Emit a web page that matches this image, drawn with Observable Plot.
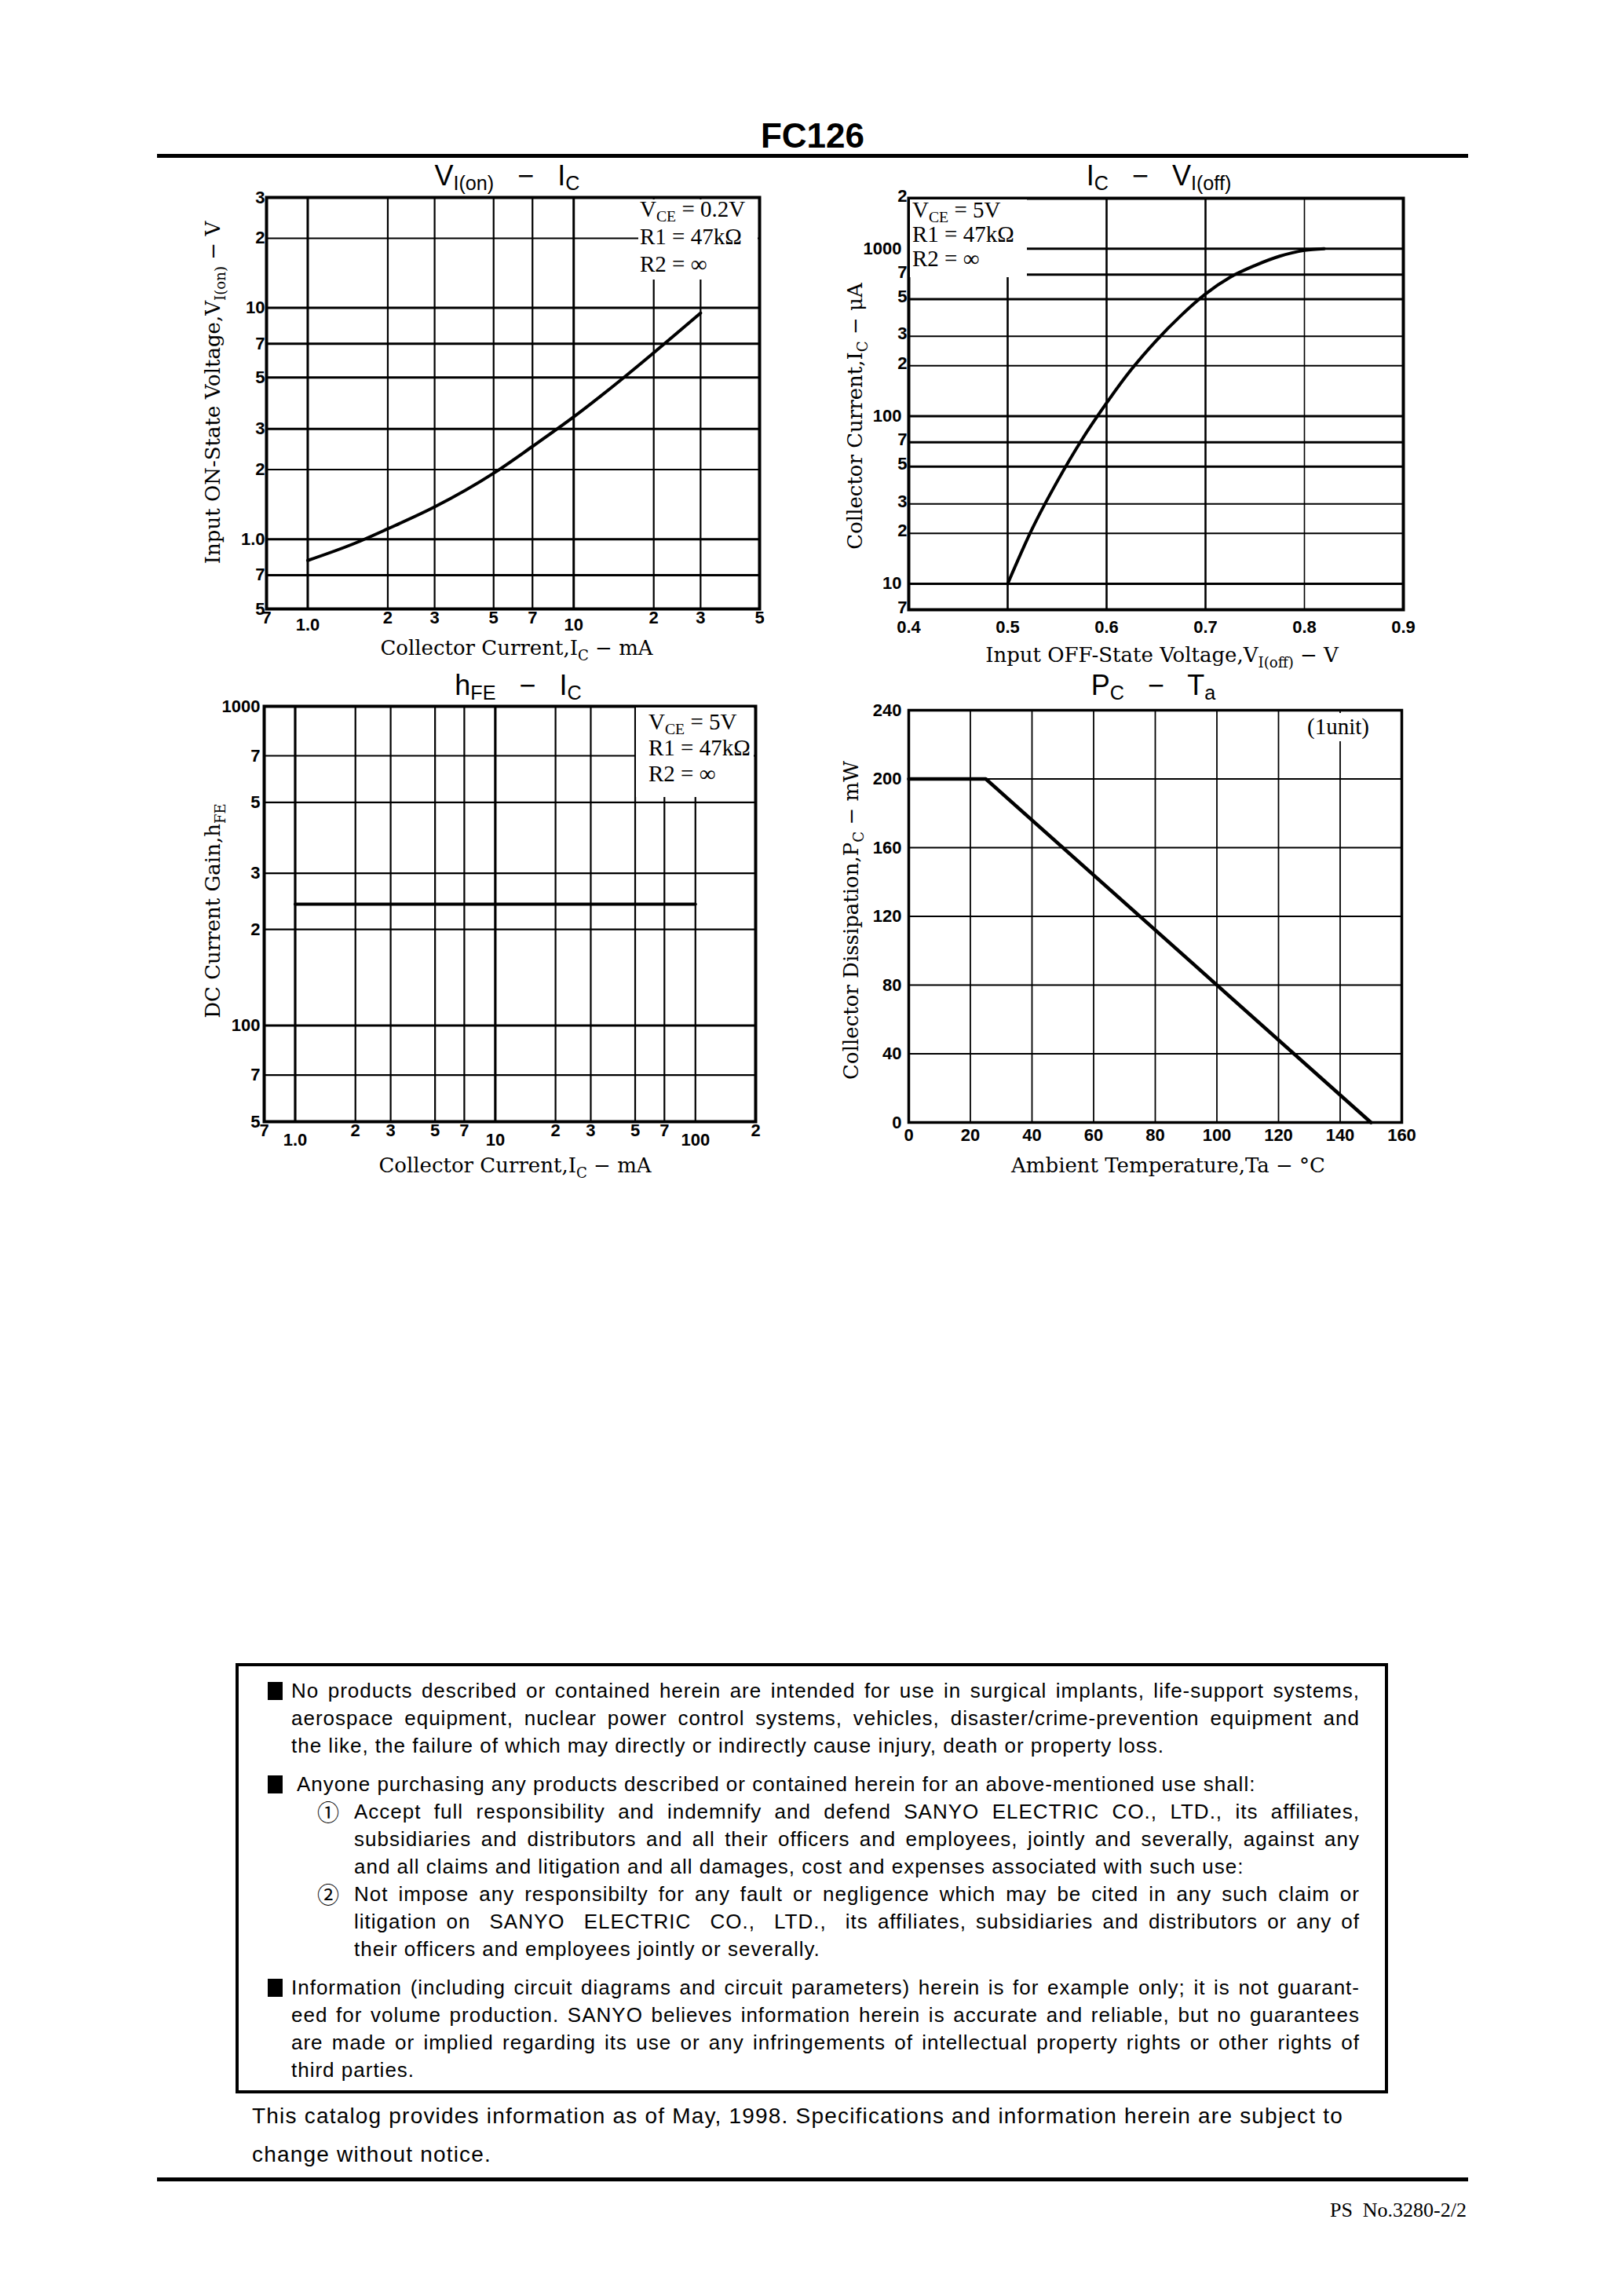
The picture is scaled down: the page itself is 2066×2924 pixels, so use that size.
<!DOCTYPE html>
<html><head><meta charset="utf-8">
<script src="https://cdn.jsdelivr.net/npm/d3@7"></script>
<script src="https://cdn.jsdelivr.net/npm/@observablehq/plot@0.6"></script>
<style>
html,body{margin:0;padding:0;background:#fff;}
#page{position:relative;width:2066px;height:2924px;background:#fff;overflow:hidden;}
#page > svg{position:absolute;}
.rule{position:absolute;background:#000;}
#disc{position:absolute;left:300px;top:2118px;width:1468px;height:548px;border:4px solid #000;box-sizing:border-box;
  font-family:'Liberation Sans',Arial,Helvetica,sans-serif;font-size:26px;letter-spacing:1px;line-height:35px;color:#000;}
.row{position:absolute;white-space:nowrap;height:35px;}
.j{text-align:justify;text-align-last:justify;}
.sq{position:absolute;width:19px;height:23px;background:#000;top:6px;}
.cn{position:absolute;font-family:'Noto Sans CJK JP','DejaVu Sans',sans-serif;font-size:28px;line-height:35px;letter-spacing:0;}
#catalog{position:absolute;left:321px;top:2670px;font-family:'Liberation Sans',Arial,sans-serif;font-size:28px;letter-spacing:1.2px;line-height:49px;white-space:nowrap;}
</style></head>
<body><div id="page">
<div class="rule" style="left:200px;top:196px;width:1670px;height:5px"></div>
<div class="rule" style="left:200px;top:2773px;width:1670px;height:5px"></div>
<div id="disc">
  <i class="sq" style="left:37px;top:20px"></i>
  <div class="row j" style="top:14px;left:67px;width:1361px">No products described or contained herein are intended for use in surgical implants, life-support systems,</div>
  <div class="row j" style="top:49px;left:67px;width:1361px">aerospace equipment, nuclear power control systems, vehicles, disaster/crime-prevention equipment and</div>
  <div class="row" style="top:84px;left:67px;">the like, the failure of which may directly or indirectly cause injury, death or property loss.</div>
  <i class="sq" style="left:37px;top:139px"></i>
  <div class="row" style="top:133px;left:74px;">Anyone purchasing any products described or contained herein for an above-mentioned use shall:</div>
  <span class="cn" style="left:100px;top:168px">①</span>
  <div class="row j" style="top:168px;left:147px;width:1281px">Accept full responsibility and indemnify and defend SANYO ELECTRIC CO., LTD., its affiliates,</div>
  <div class="row j" style="top:203px;left:147px;width:1281px">subsidiaries and distributors and all their officers and employees, jointly and severally, against any</div>
  <div class="row" style="top:238px;left:147px;">and all claims and litigation and all damages, cost and expenses associated with such use:</div>
  <span class="cn" style="left:100px;top:273px">②</span>
  <div class="row j" style="top:273px;left:147px;width:1281px">Not impose any responsibilty for any fault or negligence which may be cited in any such claim or</div>
  <div class="row j" style="top:308px;left:147px;width:1281px">litigation on&nbsp; SANYO&nbsp; ELECTRIC&nbsp; CO.,&nbsp; LTD.,&nbsp; its affiliates, subsidiaries and distributors or any of</div>
  <div class="row" style="top:343px;left:147px;">their officers and employees jointly or severally.</div>
  <i class="sq" style="left:37px;top:398px"></i>
  <div class="row j" style="top:392px;left:67px;width:1361px">Information (including circuit diagrams and circuit parameters) herein is for example only; it is not guarant-</div>
  <div class="row j" style="top:427px;left:67px;width:1361px">eed for volume production. SANYO believes information herein is accurate and reliable, but no guarantees</div>
  <div class="row j" style="top:462px;left:67px;width:1361px">are made or implied regarding its use or any infringements of intellectual property rights or other rights of</div>
  <div class="row" style="top:497px;left:67px;">third parties.</div>
</div>
<div id="catalog">This catalog provides information as of May, 1998. Specifications and information herein are subject to<br>change without notice.</div>
</div>
<script>
// ---------- Chart 1: VI(on) - IC ----------
const c1Ic  = [1.0, 1.5, 2.0, 3.0, 5.0, 7.0, 10, 15, 20, 30];
const c1Vin = [0.81, 0.96, 1.11, 1.38, 1.93, 2.52, 3.38, 4.87, 6.4, 9.5];
const c1XTicks  = [0.7, 1, 2, 3, 5, 7, 10, 20, 30, 50];
const c1XLabels = ["7", "1.0", "2", "3", "5", "7", "10", "2", "3", "5"];
const c1YTicks  = [0.5, 0.7, 1, 2, 3, 5, 7, 10, 20, 30];
const c1YLabels = ["5", "7", "1.0", "2", "3", "5", "7", "10", "2", "3"];
const c1XGrid = [1, 2, 3, 5, 7, 10, 20, 30];
const c1YGrid = [0.7, 1, 2, 3, 5, 7, 10, 20];

// ---------- Chart 2: IC - VI(off) ----------
const c2Voff = [0.50, 0.525, 0.55, 0.575, 0.60, 0.625, 0.65, 0.675, 0.70, 0.725, 0.75, 0.775, 0.80, 0.82];
const c2Ic   = [10, 21.4, 40.7, 72.4, 120, 190, 282, 398, 537, 676, 794, 902, 977, 1000];
const c2XTicks  = [0.4, 0.5, 0.6, 0.7, 0.8, 0.9];
const c2XLabels = ["0.4", "0.5", "0.6", "0.7", "0.8", "0.9"];
const c2YTicks  = [7, 10, 20, 30, 50, 70, 100, 200, 300, 500, 700, 1000, 2000];
const c2YLabels = ["7", "10", "2", "3", "5", "7", "100", "2", "3", "5", "7", "1000", "2"];
const c2XGrid = [0.5, 0.6, 0.7, 0.8];
const c2YGrid = [10, 20, 30, 50, 70, 100, 200, 300, 500, 700, 1000];

// ---------- Chart 3: hFE - IC ----------
const c3Ic  = [1.0, 100];
const c3Hfe = [240, 240];
const c3XTicks  = [0.7, 1, 2, 3, 5, 7, 10, 20, 30, 50, 70, 100, 200];
const c3XLabels = ["7", "1.0", "2", "3", "5", "7", "10", "2", "3", "5", "7", "100", "2"];
const c3YTicks  = [50, 70, 100, 200, 300, 500, 700, 1000];
const c3YLabels = ["5", "7", "100", "2", "3", "5", "7", "1000"];
const c3XGrid = [1, 2, 3, 5, 7, 10, 20, 30, 50, 70, 100];
const c3YGrid = [70, 100, 200, 300, 500, 700];

// ---------- Chart 4: PC - Ta ----------
const c4Ta = [0, 25, 150];
const c4Pc = [200, 200, 0];
const c4XTicks  = [0, 20, 40, 60, 80, 100, 120, 140, 160];
const c4XLabels = ["0", "20", "40", "60", "80", "100", "120", "140", "160"];
const c4YTicks  = [0, 40, 80, 120, 160, 200, 240];
const c4YLabels = ["0", "40", "80", "120", "160", "200", "240"];
const c4XGrid = [20, 40, 60, 80, 100, 120, 140];
const c4YGrid = [40, 80, 120, 160, 200];

// ---------- helpers ----------
const page = document.getElementById("page");
const SANS = "'Liberation Sans',Arial,Helvetica,sans-serif";
const SERIF = "'Liberation Serif','Times New Roman',serif";
const SERIF2 = "'DejaVu Serif','Liberation Serif',serif";
const lab = (ticks, labels) => d => labels[ticks.indexOf(d)];
const isDecade = d => Math.abs(Math.log10(d) - Math.round(Math.log10(d))) < 1e-9;
const tickStyle = {fontFamily: SANS, fontSize: "22px", fontWeight: "bold", background: "transparent", overflow: "visible", color: "#000"};
const M = {marginLeft: 70, marginRight: 20, marginTop: 20, marginBottom: 50};

// tick labels drawn as text marks positioned by the chart's own scales
const xLabels = (ticks, labels, pad) => Plot.text(ticks, {x: d => d, text: lab(ticks, labels), frameAnchor: "bottom", lineAnchor: "top", dy: pad, fill: "#000"});
const yLabels = (ticks, labels, pad, dy = 0) => Plot.text(ticks, {y: d => d, text: lab(ticks, labels), frameAnchor: "left", textAnchor: "end", dx: -pad, dy, fill: "#000"});

function place(svg, frameLeft, frameTop) {
  svg.style.position = "absolute";
  svg.style.left = (frameLeft - M.marginLeft) + "px";
  svg.style.top = (frameTop - M.marginTop) + "px";
  page.appendChild(svg);
}

// Chart 1 frame: x 339-967, y 251-775
const ch1 = Plot.plot({
  width: 628 + 90, height: 524 + 70, ...M,
  x: {type: "log", domain: [0.7, 50], axis: null},
  y: {type: "log", domain: [0.5, 30], axis: null},
  style: tickStyle,
  marks: [
    Plot.ruleX(c1XGrid, {stroke: "#000", strokeWidth: d => (d === 1 || d === 10) ? 3 : 2.2}),
    Plot.ruleY(c1YGrid, {stroke: "#000", strokeWidth: d => (d === 20 || d === 2) ? 2 : 3}),
    Plot.frame({stroke: "#000", strokeWidth: 4}),
    xLabels(c1XTicks.filter(d => !isDecade(d)), c1XLabels.filter((_, i) => !isDecade(c1XTicks[i])), 3),
    xLabels(c1XTicks.filter(isDecade), c1XLabels.filter((_, i) => isDecade(c1XTicks[i])), 12),
    yLabels(c1YTicks, c1YLabels, 2),
    Plot.line(c1Ic.map((ic, i) => ({ic, v: c1Vin[i]})), {x: "ic", y: "v", curve: "monotone-x", stroke: "#000", strokeWidth: 4})
  ]
});
place(ch1, 339, 251);

// Chart 2 frame: x 1157-1787, y 252-776
const ch2 = Plot.plot({
  width: 630 + 90, height: 524 + 70, ...M,
  x: {type: "linear", domain: [0.4, 0.9], axis: null},
  y: {type: "log", domain: [7, 2000], axis: null},
  style: tickStyle,
  marks: [
    Plot.ruleX(c2XGrid, {stroke: "#000", strokeWidth: d => d === 0.8 ? 1.6 : 2.6}),
    Plot.ruleY(c2YGrid, {stroke: "#000", strokeWidth: d => [20, 30, 200, 300].includes(d) ? 2 : 3}),
    Plot.frame({stroke: "#000", strokeWidth: 4}),
    xLabels(c2XTicks, c2XLabels, 14),
    yLabels(c2YTicks.filter(d => !isDecade(d)), c2YLabels.filter((_, i) => !isDecade(c2YTicks[i])), 2, -3),
    yLabels(c2YTicks.filter(isDecade), c2YLabels.filter((_, i) => isDecade(c2YTicks[i])), 9),
    Plot.line(c2Voff.map((v, i) => ({v, ic: c2Ic[i]})), {x: "v", y: "ic", curve: "monotone-x", stroke: "#000", strokeWidth: 4})
  ]
});
place(ch2, 1157, 252);

// Chart 3 frame: x 336-962, y 899-1428
const ch3 = Plot.plot({
  width: 626 + 90, height: 529 + 70, ...M,
  x: {type: "log", domain: [0.7, 200], axis: null},
  y: {type: "log", domain: [50, 1000], axis: null},
  style: tickStyle,
  marks: [
    Plot.ruleX(c3XGrid, {stroke: "#000", strokeWidth: d => (d === 1 || d === 10) ? 3.2 : 2.2}),
    Plot.ruleY(c3YGrid, {stroke: "#000", strokeWidth: d => d === 100 ? 3 : 2.2}),
    Plot.frame({stroke: "#000", strokeWidth: 4}),
    xLabels(c3XTicks.filter(d => !isDecade(d)), c3XLabels.filter((_, i) => !isDecade(c3XTicks[i])), 3),
    xLabels(c3XTicks.filter(isDecade), c3XLabels.filter((_, i) => isDecade(c3XTicks[i])), 15),
    yLabels(c3YTicks, c3YLabels, 5),
    Plot.line(c3Ic.map((ic, i) => ({ic, h: c3Hfe[i]})), {x: "ic", y: "h", stroke: "#000", strokeWidth: 4})
  ]
});
place(ch3, 336, 899);

// Chart 4 frame: x 1157-1785, y 904-1429
const ch4 = Plot.plot({
  width: 628 + 90, height: 525 + 70, ...M,
  x: {type: "linear", domain: [0, 160], axis: null},
  y: {type: "linear", domain: [0, 240], axis: null},
  style: tickStyle,
  marks: [
    Plot.ruleX(c4XGrid, {stroke: "#000", strokeWidth: 1.8}),
    Plot.ruleY(c4YGrid, {stroke: "#000", strokeWidth: 2}),
    Plot.frame({stroke: "#000", strokeWidth: 3.5}),
    xLabels(c4XTicks, c4XLabels, 8),
    yLabels(c4YTicks, c4YLabels, 9),
    Plot.line(c4Ta.map((t, i) => ({t, p: c4Pc[i]})), {x: "t", y: "p", stroke: "#000", strokeWidth: 4.5})
  ]
});
place(ch4, 1157, 904);

// ---------- overlay: titles, axis titles, legends ----------
const ov = d3.select(page).append("svg")
  .attr("width", 2066).attr("height", 2924)
  .style("left", "0px").style("top", "0px").style("pointer-events", "none");

function rich(x, y, parts, o) {
  const t = ov.append("text")
    .attr("font-family", o.family).attr("font-size", o.size)
    .attr("font-weight", o.weight || "normal")
    .attr("text-anchor", o.anchor || "start")
    .style("white-space", "pre").attr("fill", "#000");
  if (o.rotate) t.attr("transform", `translate(${x},${y}) rotate(-90)`).attr("x", 0).attr("y", 0);
  else t.attr("x", x).attr("y", y);
  const sub = o.sub || Math.round(o.size * 0.25);
  let shifted = 0;
  for (const p of parts) {
    const [s, kind] = Array.isArray(p) ? p : [p];
    const ts = t.append("tspan").text(s);
    if (kind === "sub") {
      ts.attr("font-size", o.size * (o.subScale || 0.68));
      if (shifted !== sub) ts.attr("dy", sub - shifted);
      shifted = sub;
    } else {
      if (shifted) ts.attr("dy", -shifted);
      shifted = 0;
    }
  }
  return t;
}

// header
rich(1035, 188, ["FC126"], {family: SANS, size: 44, weight: "bold", anchor: "middle"});
rich(1868, 2823, ["PS  No.3280-2/2"], {family: SERIF, size: 26, anchor: "end"});

// chart titles
const tOpt = {family: SANS, size: 36, anchor: "middle", sub: 6, subScale: 0.7};
rich(646, 236, ["V", ["I(on)", "sub"], "   −   ", "I", ["C", "sub"]], tOpt);
rich(1476, 236, ["I", ["C", "sub"], "   −   ", "V", ["I(off)", "sub"]], tOpt);
rich(660, 885, ["h", ["FE", "sub"], "   −   ", "I", ["C", "sub"]], tOpt);
rich(1469, 885, ["P", ["C", "sub"], "   −   ", "T", ["a", "sub"]], tOpt);

// axis titles
const aOpt = {family: SERIF2, size: 26, anchor: "middle", sub: 7, subScale: 0.7};
rich(658, 834, ["Collector Current,I", ["C", "sub"], " − mA"], aOpt);
rich(280, 500, ["Input ON-State Voltage,V", ["I(on)", "sub"], " − V"], {...aOpt, rotate: true});
rich(1480, 843, ["Input OFF-State Voltage,V", ["I(off)", "sub"], " − V"], aOpt);
rich(1098, 530, ["Collector Current,I", ["C", "sub"], " − μA"], {...aOpt, rotate: true});
rich(656, 1493, ["Collector Current,I", ["C", "sub"], " − mA"], aOpt);
rich(280, 1160, ["DC Current Gain,h", ["FE", "sub"]], {...aOpt, rotate: true});
rich(1488, 1493, ["Ambient Temperature,Ta − °C"], aOpt);
rich(1093, 1172, ["Collector Dissipation,P", ["C", "sub"], " − mW"], {...aOpt, rotate: true});

// legend boxes (white panels that interrupt the grid, as in the original)
const boxes = [[813, 254, 152, 102], [1159, 254, 149, 99], [810, 901, 150, 114], [1660, 908, 95, 36]];
for (const [x, y, w, h] of boxes) ov.append("rect").attr("x", x).attr("y", y).attr("width", w).attr("height", h).attr("fill", "#fff");

const lOpt = {family: SERIF, size: 29, sub: 6, subScale: 0.68};
rich(815, 276, ["V", ["CE", "sub"], " = 0.2V"], lOpt);
rich(815, 311, ["R1 = 47kΩ"], lOpt);
rich(815, 346, ["R2 = ∞"], lOpt);
rich(1162, 277, ["V", ["CE", "sub"], " = 5V"], lOpt);
rich(1162, 308, ["R1 = 47kΩ"], lOpt);
rich(1162, 339, ["R2 = ∞"], lOpt);
rich(826, 929, ["V", ["CE", "sub"], " = 5V"], lOpt);
rich(826, 962, ["R1 = 47kΩ"], lOpt);
rich(826, 995, ["R2 = ∞"], lOpt);
rich(1665, 935, ["(1unit)"], {family: SERIF, size: 29});
</script>
</body></html>
